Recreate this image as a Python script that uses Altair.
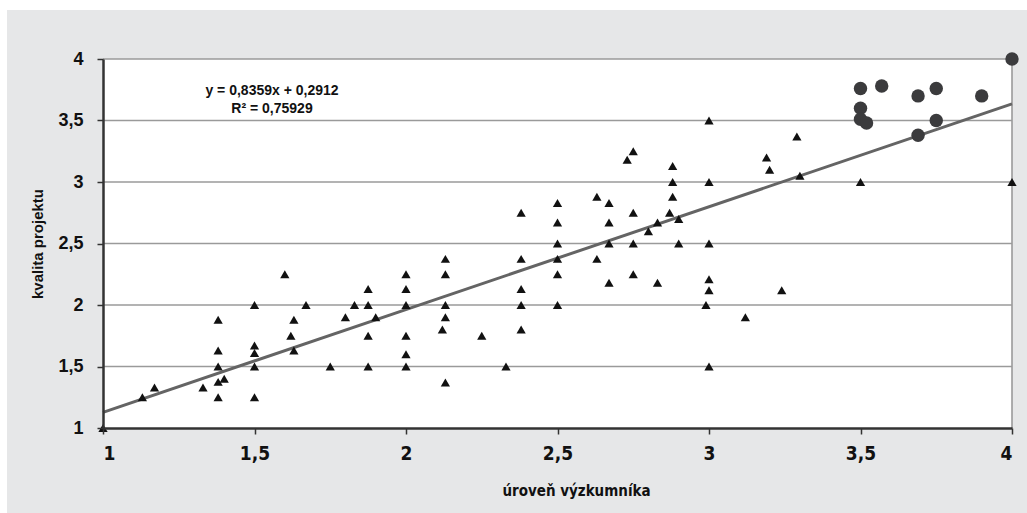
import altair as alt
import pandas as pd

# ---- data ----
tri_x = [1.00, 1.13, 1.17, 1.33, 1.38, 1.38, 1.40, 1.38, 1.38, 1.38,
         1.50, 1.50, 1.50, 1.50, 1.50, 1.60, 1.62, 1.63, 1.63, 1.67,
         1.75, 1.80, 1.83, 1.875, 1.875, 1.875, 1.875, 1.90, 2.00, 2.00,
         2.00, 2.00, 2.00, 2.00, 2.12, 2.13, 2.13, 2.13, 2.13, 2.13,
         2.25, 2.33, 2.38, 2.38, 2.38, 2.38, 2.38, 2.50, 2.50, 2.50,
         2.50, 2.50, 2.50, 2.63, 2.63, 2.67, 2.67, 2.67, 2.67, 2.73,
         2.75, 2.75, 2.75, 2.75, 2.80, 2.83, 2.83, 2.87, 2.88, 2.88,
         2.88, 2.90, 2.90, 3.00, 3.00, 3.00, 3.00, 3.00, 2.99, 3.00,
         3.12, 3.19, 3.20, 3.24, 3.29, 3.30, 3.50, 4.00]
tri_y = [1.00, 1.25, 1.33, 1.33, 1.25, 1.375, 1.40, 1.50, 1.63, 1.88,
         1.25, 1.50, 1.61, 1.67, 2.00, 2.25, 1.75, 1.88, 1.63, 2.00,
         1.50, 1.90, 2.00, 1.50, 1.75, 2.00, 2.13, 1.90, 1.50, 1.60,
         1.75, 2.00, 2.13, 2.25, 1.80, 1.90, 2.00, 1.37, 2.25, 2.375,
         1.75, 1.50, 1.80, 2.00, 2.13, 2.375, 2.75, 2.00, 2.25, 2.375,
         2.50, 2.67, 2.83, 2.375, 2.88, 2.18, 2.50, 2.67, 2.83, 3.18,
         3.25, 2.75, 2.50, 2.25, 2.60, 2.67, 2.18, 2.75, 2.88, 3.00,
         3.13, 2.70, 2.50, 3.50, 3.00, 2.50, 2.21, 2.12, 2.00, 1.50,
         1.90, 3.20, 3.10, 2.12, 3.37, 3.05, 3.00, 3.00]
circ_x = [4.00, 3.50, 3.57, 3.69, 3.75, 3.90, 3.50, 3.50, 3.52, 3.75, 3.69]
circ_y = [4.00, 3.76, 3.78, 3.70, 3.76, 3.70, 3.60, 3.51, 3.48, 3.50, 3.38]
trend_x = [1.0, 4.0]
trend_y = [1.127, 3.635]
grid_y = [1.5, 2.0, 2.5, 3.0, 3.5, 4.0]
ticks = [1, 1.5, 2, 2.5, 3, 3.5, 4]
eq_lines = ["y = 0,8359x + 0,2912", "R² = 0,75929"]

W, H = 909, 369
PAD = {"left": 103, "top": 59, "right": 15, "bottom": 85}
NARROW = "Liberation Sans Narrow, DejaVu Sans Condensed, Liberation Sans"

xs = alt.Scale(domain=[1, 4], nice=False, zero=False)
ys = alt.Scale(domain=[1, 4], nice=False, zero=False)

one = pd.DataFrame({"k": [0]})
tri = pd.DataFrame({"x": tri_x, "y": tri_y})
circ = pd.DataFrame({"x": circ_x, "y": circ_y})
trend = pd.DataFrame({"x": trend_x, "y": trend_y})
grid = pd.DataFrame({"y": grid_y})

label_expr = "replace(format(datum.value, '~g'), '.', ',')"

x_axis = alt.Axis(
    values=ticks, labelExpr=label_expr, title="úroveň výzkumníka",
    grid=False, zindex=2, domainColor="#333333", domainWidth=2.5,
    tickColor="#333333", tickWidth=1.5, tickSize=6, labelPadding=10,
    labelFont=NARROW, labelFontSize=19,
    labelFontWeight="bold", labelColor="#111111",
    titleFont=NARROW, titleFontSize=15,
    titleFontWeight="bold", titleColor="#111111",
    titleX=473, titleY=62, titleBaseline="middle", titleAlign="center")
y_axis = alt.Axis(
    values=ticks, labelExpr=label_expr, title="kvalita projektu",
    grid=False, zindex=2, domainColor="#333333", domainWidth=2.5,
    tickColor="#333333", tickWidth=1.5, tickSize=6, labelPadding=14,
    labelFont="Liberation Sans", labelFontSize=18,
    labelFontWeight="bold", labelColor="#111111",
    titleFont="Liberation Sans", titleFontSize=15,
    titleFontWeight="bold", titleColor="#111111",
    titleX=37 - PAD["left"], titleY=H / 2, titleAngle=270,
    titleBaseline="middle", titleAlign="center")

X = alt.X("x:Q", scale=xs, axis=x_axis, title="úroveň výzkumníka")
Y = alt.Y("y:Q", scale=ys, axis=y_axis, title="kvalita projektu")

bg = alt.Chart(one).mark_rect(color="#e6e7e8").encode(
    x=alt.value(7 - PAD["left"]), x2=alt.value(1027 - PAD["left"]),
    y=alt.value(10 - PAD["top"]), y2=alt.value(513 - PAD["top"]))
plotbg = alt.Chart(one).mark_rect(color="#ffffff").encode(
    x=alt.value(0), x2=alt.value(W), y=alt.value(0), y2=alt.value(H))

gridlines = alt.Chart(grid).mark_rule(color="#9a9a9a", strokeWidth=1.6).encode(y=Y)
rightline = alt.Chart(one).mark_rule(color="#9a9a9a", strokeWidth=1.6).encode(
    x=alt.value(W), y=alt.value(0), y2=alt.value(H))

trend_line = alt.Chart(trend).mark_line(color="#646464", strokeWidth=3).encode(x=X, y=Y)

tri_pts = alt.Chart(tri).mark_point(
    shape="triangle-up", filled=True, color="#111111", size=85, opacity=1
).encode(x=X, y=Y)

circ_pts = alt.Chart(circ).mark_point(
    shape="circle", filled=True, color="#3b3b3d", size=180, opacity=1
).encode(x=X, y=Y)

eq = alt.Chart(one).mark_text(
    text=eq_lines, font="Liberation Sans", fontSize=14, fontWeight="bold",
    color="#111111", align="center", baseline="middle", lineHeight=18
).encode(x=alt.value(272 - PAD["left"]), y=alt.value(91 - PAD["top"]))

chart = alt.layer(
    bg, plotbg, gridlines, rightline, trend_line, tri_pts, circ_pts, eq
).properties(
    width=W, height=H, padding=PAD,
    autosize=alt.AutoSizeParams(type="none"), background="#ffffff"
).configure_view(stroke=None)

chart.save("out.html", embed_options={"renderer": "svg", "actions": False})
